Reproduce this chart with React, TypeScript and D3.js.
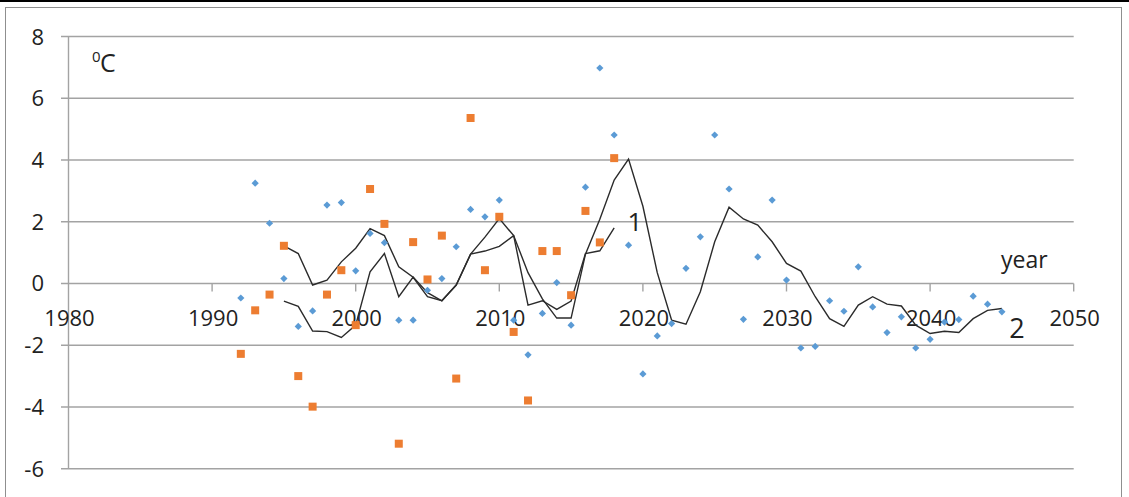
import React from "react";
import * as d3 from "d3";

const blueYears: number[] = d3.range(1992, 2046);
const blueValues: number[] = [
  -0.47, 3.25, 1.95, 0.16, -1.39, -0.89, 2.54, 2.62, 0.41, 1.62,
  1.32, -1.19, -1.19, -0.22, 0.16, 1.19, 2.4, 2.16, 2.7, -1.19,
  -2.31, -0.97, 0.03, -1.35, 3.12, 6.98, 4.81, 1.24, -2.93, -1.7,
  -1.3, 0.49, 1.51, 4.81, 3.06, -1.16, 0.86, 2.7, 0.11, -2.09,
  -2.04, -0.56, -0.9, 0.54, -0.76, -1.59, -1.08, -2.09, -1.81, -1.25,
  -1.17, -0.41, -0.67, -0.92,
];

const orangeYears: number[] = d3.range(1992, 2019);
const orangeValues: number[] = [
  -2.28, -0.87, -0.36, 1.22, -3.0, -3.99, -0.36, 0.43, -1.35, 3.06,
  1.93, -5.19, 1.34, 0.13, 1.55, -3.08, 5.36, 0.43, 2.16, -1.57,
  -3.79, 1.05, 1.05, -0.38, 2.35, 1.33, 4.06,
];

const line1Years: number[] = d3.range(1995, 2019);
const line1Values: number[] = [
  1.22, 0.97, -0.05, 0.11, 0.7, 1.14, 1.78, 1.55, 0.54, 0.2,
  -0.43, -0.56, -0.05, 0.95, 1.5, 2.1, 1.55, -0.7, -0.56, -0.84,
  -0.57, 0.97, 1.06, 1.8,
];

const line2Years: number[] = d3.range(1995, 2046);
const line2Values: number[] = [
  -0.57, -0.74, -1.54, -1.56, -1.75, -1.35, 0.38, 0.97, -0.43, 0.21,
  -0.3, -0.56, -0.05, 0.95, 1.05, 1.2, 1.55, 0.35, -0.5, -1.12,
  -1.12, 0.95, 2.08, 3.35, 4.03, 2.5, 0.35, -1.19, -1.32, -0.27,
  1.35, 2.47, 2.09, 1.89, 1.35, 0.65, 0.4, -0.43, -1.14, -1.39,
  -0.7, -0.43, -0.67, -0.73, -1.35, -1.62, -1.55, -1.59, -1.14, -0.87,
  -0.81,
];

const xTicks: number[] = [1980, 1990, 2000, 2010, 2020, 2030, 2040, 2050];
const yTicks: number[] = [-6, -4, -2, 0, 2, 4, 6, 8];

const FONT = "'Open Sans', 'Liberation Sans', sans-serif";

export default function App() {
  const W = 1129;
  const H = 497;
  const x = d3.scaleLinear().domain([1980, 2050]).range([68.5, 1073.7]);
  const y = d3.scaleLinear().domain([-6, 8]).range([468.7, 36.5]);

  const lineGen = d3
    .line<[number, number]>()
    .x((d) => x(d[0]))
    .y((d) => y(d[1]));

  const l1 = lineGen(line1Years.map((yr, i) => [yr, line1Values[i]] as [number, number])) || "";
  const l2 = lineGen(line2Years.map((yr, i) => [yr, line2Values[i]] as [number, number])) || "";

  const r = 3.6;
  const diamond = `M0,${-r}L${r},0L0,${r}L${-r},0Z`;

  const gridColor = "#a3a3a3";

  return (
    <svg
      width={W}
      height={H}
      style={{ position: "absolute", left: 0, top: 0, background: "#fff" }}
      fontFamily={FONT}
    >
      <rect x={0} y={0} width={W} height={H} fill="#fff" />
      <rect x={5.5} y={7.5} width={1116} height={H + 10} fill="none" stroke="#8f8f8f" strokeWidth={1} />
      <rect x={0} y={0} width={W} height={2} fill="#000" />

      {yTicks.map((t) => (
        <line key={"g" + t} x1={61} x2={x(2050)} y1={y(t)} y2={y(t)} stroke={gridColor} strokeWidth={1.4} />
      ))}
      <line x1={x(1980)} x2={x(1980)} y1={y(8)} y2={y(-6)} stroke={gridColor} strokeWidth={1.4} />
      {xTicks.slice(1).map((t) => (
        <line key={"t" + t} x1={x(t)} x2={x(t)} y1={y(0)} y2={y(0) + 8} stroke={gridColor} strokeWidth={1.4} />
      ))}

      {yTicks.map((t) => (
        <text key={"yl" + t} x={44} y={y(t) + 8} textAnchor="end" fontSize={22} fill="#222">
          {t}
        </text>
      ))}
      {xTicks.map((t) => (
        <text key={"xl" + t} x={x(t) + 1} y={326} textAnchor="middle" fontSize={22} fill="#222">
          {t}
        </text>
      ))}

      <path d={l2} fill="none" stroke="#2b2b2b" strokeWidth={1.4} />
      <path d={l1} fill="none" stroke="#2b2b2b" strokeWidth={1.4} />

      {blueYears.map((yr, i) => (
        <path
          key={"b" + yr}
          d={diamond}
          transform={`translate(${x(yr)},${y(blueValues[i])})`}
          fill="#5b9bd5"
        />
      ))}
      {orangeYears.map((yr, i) => (
        <rect
          key={"o" + yr}
          x={x(yr) - 4}
          y={y(orangeValues[i]) - 4}
          width={8}
          height={8}
          fill="#ed7d31"
        />
      ))}

      <text x={92} y={62} fontSize={15} fill="#222">0</text>
      <text x={100} y={71.5} fontSize={25} fill="#222">C</text>
      <text x={1001} y={267.5} fontSize={23} fill="#222">year</text>
      <text x={635} y={230.5} fontSize={26} textAnchor="middle" fill="#222">1</text>
      <text x={1017} y={338} fontSize={27} textAnchor="middle" fill="#222">2</text>
    </svg>
  );
}
